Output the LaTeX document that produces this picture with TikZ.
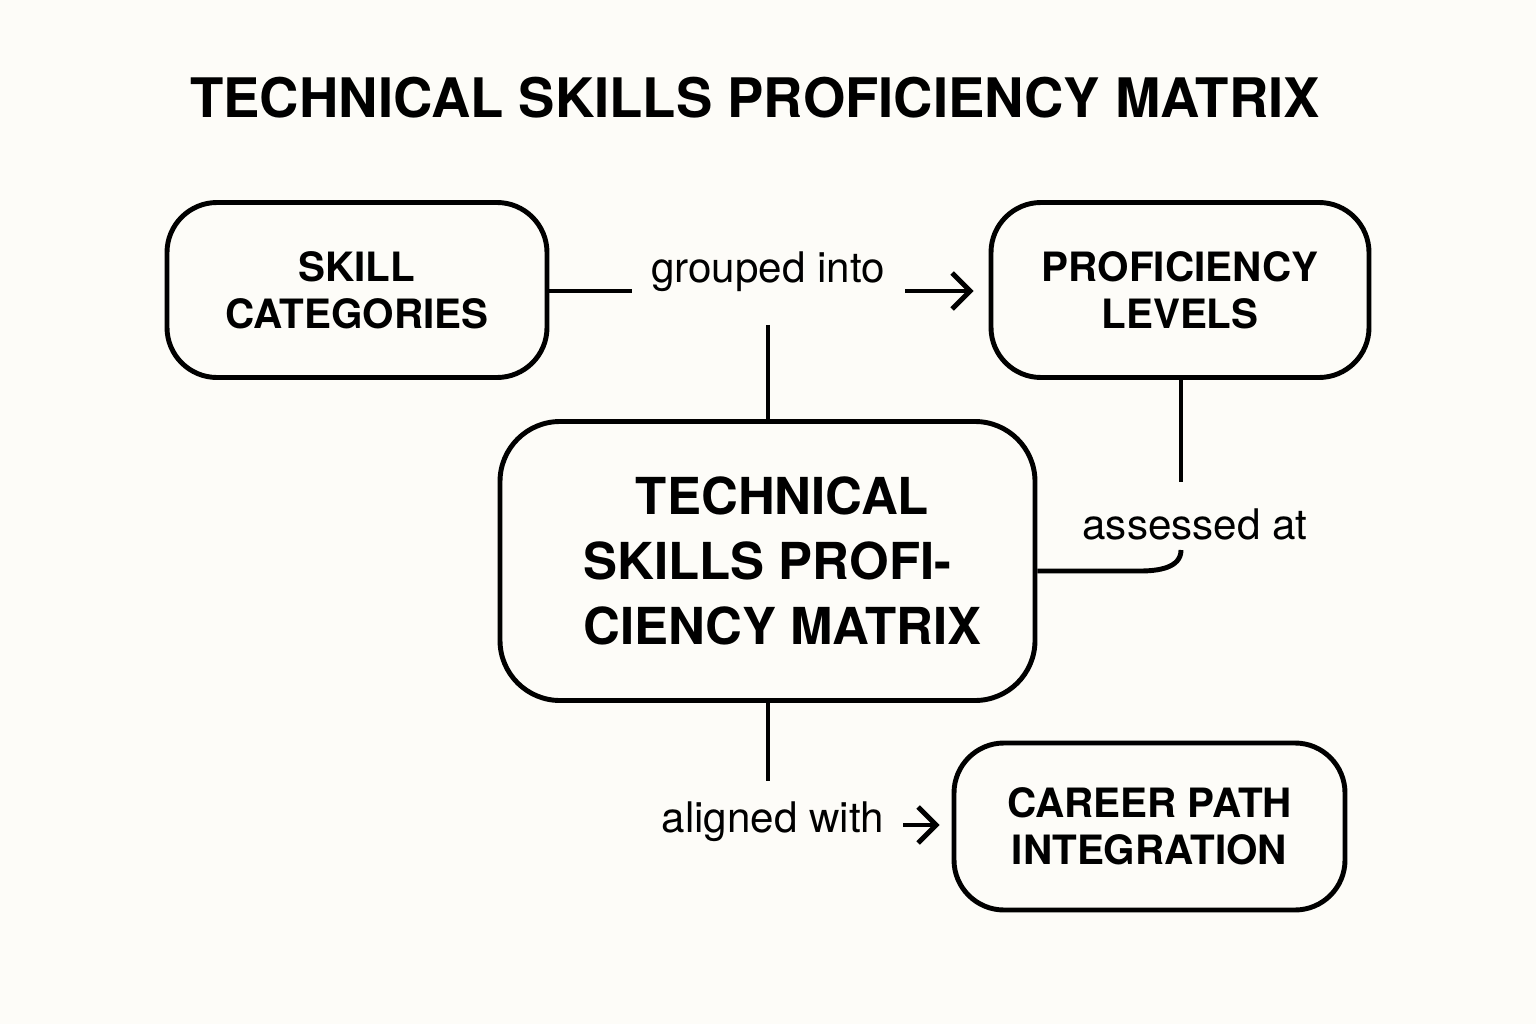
\documentclass[tikz,border=0pt]{standalone}
\usepackage{fontspec}
\setmainfont{TeX Gyre Heros}
\usetikzlibrary{positioning,arrows.meta}
\definecolor{paper}{HTML}{FDFCF8}
\tikzset{
  box/.style={draw, line width=1.4pt, rounded corners=0.5cm, align=center, font=\bfseries\fontsize{11.5}{13.5}\selectfont},
  lbl/.style={font=\fontsize{12}{14}\selectfont, inner sep=1pt},
  link/.style={line width=1.4pt},
  arr/.style={line width=1.4pt, -{Straight Barb[length=1.8mm,width=3.6mm]}}
}
\begin{document}
\begin{tikzpicture}
\fill[paper] (0,0) rectangle (15.36,10.24);
\useasboundingbox (0,0) rectangle (15.36,10.24);
\node[font=\bfseries\fontsize{15.5}{18}\selectfont] (title) at (7.55,9.26) {TECHNICAL SKILLS PROFICIENCY MATRIX};
% boxes
\node[box, minimum width=3.8cm, minimum height=1.75cm] (skill) at (3.57,7.34) {SKILL\\CATEGORIES};
\node[box, minimum width=3.78cm, minimum height=1.75cm] (prof) at (11.80,7.34) {PROFICIENCY\\LEVELS};
\node[box, minimum width=5.35cm, minimum height=2.79cm, rounded corners=0.6cm,
  font=\bfseries\fontsize{14.5}{18.5}\selectfont] (matrix) at (7.675,4.63)
  {\hspace*{0.3cm}TECHNICAL\\SKILLS PROFI-\hspace*{0.6cm}\\\hspace*{0.3cm}CIENCY MATRIX};
\node[box, minimum width=3.91cm, minimum height=1.67cm] (career) at (11.495,1.975) {CAREER PATH\\INTEGRATION};
% labels
\node[lbl] (grouped) at (7.68,7.52) {grouped into};
\node[lbl] (assessed) at (11.95,5.0) {assessed at};
\node[lbl] (aligned) at (7.73,2.02) {aligned with};
\coordinate (g1) at (6.32,7.33);
\coordinate (g2) at (9.05,7.33);
\coordinate (a1) at (9.03,1.99);
% connectors
\draw[link] (skill.east |- g1) -- (g1);
\draw[arr] (g2) -- ([xshift=-1.5mm]prof.west |- g2);
\draw[link] (7.68,6.99) -- (matrix.north -| 7.68,0);
\draw[link] (prof.south -| 11.81,0) -- (11.81,5.42);
\draw[link] (matrix.east |- 0,4.53) -- (11.4,4.53) to[out=0,in=-90] (11.81,4.74);
\draw[link] (matrix.south -| 7.68,0) -- (7.68,2.43);
\draw[arr] (a1) -- ([xshift=-1.2mm]career.west |- a1);
\end{tikzpicture}
\end{document}
